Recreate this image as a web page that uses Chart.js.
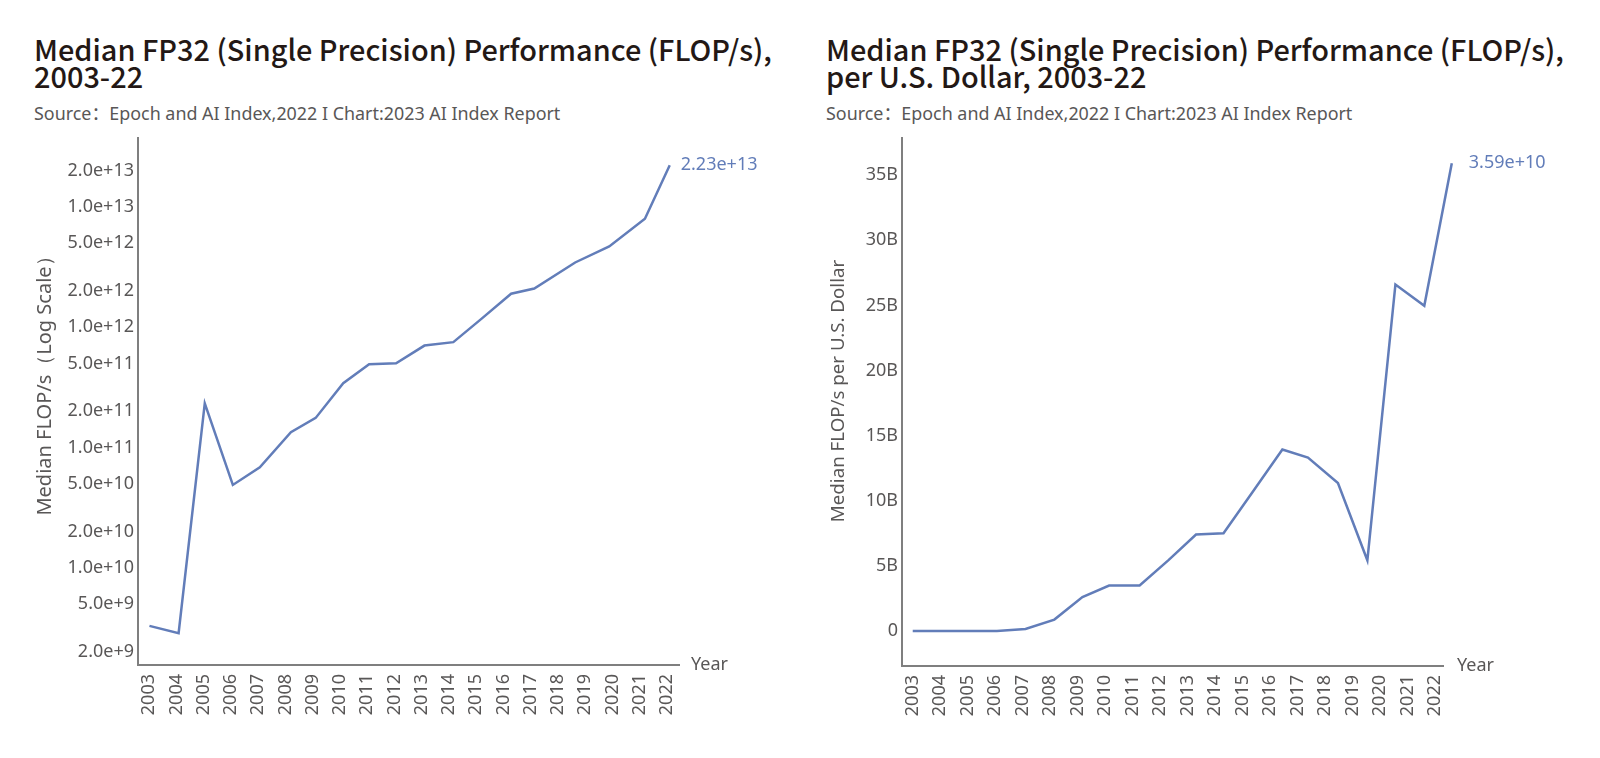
<!DOCTYPE html>
<html>
<head>
<meta charset="utf-8">
<script src="https://cdn.jsdelivr.net/npm/chart.js@4.4.1/dist/chart.umd.min.js"></script>
<style>
  html, body { margin: 0; padding: 0; background: #fff; }
  body { width: 1600px; height: 758px; position: relative; overflow: hidden; }
  .title { position: absolute; font-family: "Noto Sans CJK SC", "Noto Sans", sans-serif; font-weight: 500; font-size: 28.9px; line-height: 27px; color: #231815; white-space: nowrap; }
  .source { position: absolute; font-family: "Noto Sans", "Noto Sans CJK SC", sans-serif; font-weight: 400; font-size: 17.9px; line-height: 20px; color: #595757; white-space: nowrap; }
  .wrap { position: absolute; top: 0; width: 800px; height: 758px; }
</style>
</head>
<body>
<div class="title" id="t1" style="left:34px; top:35px;"></div>
<div class="source" id="s1" style="left:34px; top:103px;"></div>
<div class="title" id="t2" style="left:826px; top:35px;"></div>
<div class="source" id="s2" style="left:826px; top:103px;"></div>
<div class="wrap" style="left:0px;"><canvas id="c1" width="800" height="758"></canvas></div>
<div class="wrap" style="left:800px;"><canvas id="c2" width="800" height="758"></canvas></div>
<script>
// ---- Text ----
const leftTitle = ['Median FP32 (Single Precision) Performance (FLOP/s),', '2003-22'];
const rightTitle = ['Median FP32 (Single Precision) Performance (FLOP/s),', 'per U.S. Dollar, 2003-22'];
const sourceText = 'Source：Epoch and AI Index,2022 I Chart:2023 AI Index Report';
const leftYTitle = 'Median FLOP/s（Log Scale）';
const rightYTitle = 'Median FLOP/s per U.S. Dollar';
const xTitle = 'Year';

// ---- Tick labels ----
const yearTicks = [2003,2004,2005,2006,2007,2008,2009,2010,2011,2012,2013,2014,2015,2016,2017,2018,2019,2020,2021,2022];
const leftYTicks = [2e9,5e9,1e10,2e10,5e10,1e11,2e11,5e11,1e12,2e12,5e12,1e13,2e13];
const rightYTicks = [0,5e9,10e9,15e9,20e9,25e9,30e9,35e9];

// ---- Series: FLOP/s (log) ----
const leftX = [2003.01,2004.08,2005.04,2006.07,2007.06,2008.2,2009.11,2010.12,2011.07,2012.06,2013.1,2014.16,2015.2,2016.28,2017.13,2018.63,2019.88,2021.19,2022.1];
const leftY = [3.27e9,2.84e9,2.33e11,4.87e10,6.84e10,1.34e11,1.76e11,3.42e11,4.93e11,5.02e11,7.04e11,7.52e11,1.18e12,1.90e12,2.10e12,3.46e12,4.70e12,8.0e12,2.23e13];

// ---- Series: FLOP/s per U.S. dollar ----
const rightX = [2003.0,2004.0,2005.0,2006.06,2007.1,2008.15,2009.17,2010.14,2011.25,2012.3,2013.3,2014.3,2015.37,2016.44,2017.37,2018.46,2019.53,2020.55,2021.6,2022.6];
const rightY = [0.02e9,0.02e9,0.02e9,0.03e9,0.18e9,0.9e9,2.63e9,3.51e9,3.51e9,5.46e9,7.42e9,7.52e9,10.73e9,13.94e9,13.33e9,11.38e9,5.45e9,26.6e9,24.97e9,35.9e9];

document.getElementById('t1').innerHTML = leftTitle.join('<br>');
document.getElementById('t2').innerHTML = rightTitle.join('<br>');
document.getElementById('s1').textContent = sourceText;
document.getElementById('s2').textContent = sourceText;

const LINE = '#627db9';
const AXIS = '#7f7f7f';
const TXT = '#595757';
const TICKFONT = { family: '"Noto Sans", sans-serif', size: 18 };

const extras = {
  id: 'extras',
  afterDraw(chart, args, o) {
    const ctx = chart.ctx;
    const xs = chart.scales.x;
    const ca = chart.chartArea;
    ctx.save();
    ctx.font = '18px "Noto Sans", sans-serif';
    // Year label at the end of the x axis
    ctx.fillStyle = TXT;
    ctx.textAlign = 'left';
    ctx.textBaseline = 'middle';
    ctx.fillText(o.xTitle, xs.right + o.xTitleGap, ca.bottom);
    // y-axis title
    ctx.save();
    ctx.translate(o.yTitleX, o.yTitleY);
    ctx.rotate(-Math.PI / 2);
    ctx.textAlign = 'center';
    ctx.font = o.yTitleFont;
    ctx.fillText(o.yTitle, 0, 0);
    ctx.restore();
    // end value label
    const meta = chart.getDatasetMeta(0);
    const pt = meta.data[meta.data.length - 1];
    const ds = chart.data.datasets[0].data;
    const v = ds[ds.length - 1].y;
    ctx.fillStyle = LINE;
    ctx.textAlign = 'left';
    ctx.fillText(v.toExponential(2), pt.x + o.labelGap, pt.y);
    ctx.restore();
  }
};

function makeChart(id, xs, ys, yType, yMin, yMax, yTicks, yFmt, xMin, xMax, yWidth, padRight, extraOpts) {
  return new Chart(document.getElementById(id), {
    type: 'line',
    data: {
      datasets: [{
        data: xs.map((x, i) => ({ x: x, y: ys[i] })),
        borderColor: LINE,
        borderWidth: 2.5,
        pointRadius: 0,
        tension: 0,
        fill: false,
        clip: false
      }]
    },
    options: {
      responsive: false,
      animation: false,
      events: [],
      layout: { padding: { top: 138, right: padRight, left: 0, bottom: 0 } },
      plugins: { legend: { display: false }, tooltip: { enabled: false }, extras: extraOpts },
      scales: {
        x: {
          type: 'linear',
          min: xMin, max: xMax,
          grid: { display: false, drawTicks: false },
          border: { display: true, color: AXIS, width: 2 },
          afterBuildTicks: s => { s.ticks = yearTicks.map(v => ({ value: v })); },
          afterFit: s => { s.height = 758 - extraOpts.bottom; },
          ticks: {
            autoSkip: false, minRotation: 90, maxRotation: 90, padding: 9,
            color: TXT, font: TICKFONT,
            callback: v => String(v)
          }
        },
        y: {
          type: yType,
          min: yMin, max: yMax,
          grid: { display: false, drawTicks: false },
          border: { display: true, color: AXIS, width: 2 },
          afterBuildTicks: s => { s.ticks = yTicks.map(v => ({ value: v })); },
          afterFit: s => { s.width = yWidth; },
          ticks: {
            autoSkip: false, padding: 4, color: TXT, font: TICKFONT,
            callback: yFmt
          }
        }
      }
    },
    plugins: [extras]
  });
}

makeChart('c1', leftX, leftY, 'logarithmic', 1.545e9, 3.76e13, leftYTicks,
  v => Number(v).toExponential(1), 2002.59, 2022.44, 138, 121,
  { xTitle: xTitle, xTitleGap: 12, yTitle: leftYTitle, yTitleX: 45, yTitleY: 381, yTitleFont: '20px "Noto Sans", sans-serif', labelGap: 11, bottom: 665 });

makeChart('c2', rightX, rightY, 'linear', -2.66e9, 37.84e9, rightYTicks,
  v => v === 0 ? '0' : (v / 1e9) + 'B', 2002.61, 2022.28, 102, 157,
  { xTitle: xTitle, xTitleGap: 14, yTitle: rightYTitle, yTitleX: 39, yTitleY: 391, yTitleFont: '18.7px "Noto Sans", sans-serif', labelGap: 17, bottom: 666 });
</script>
</body>
</html>
